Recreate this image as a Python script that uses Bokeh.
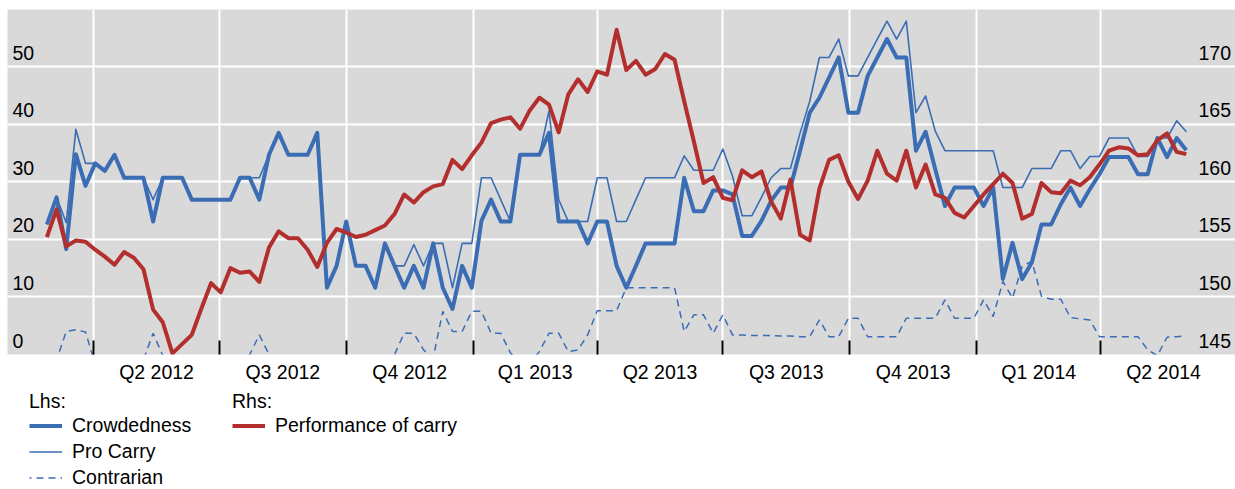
import pandas as pd
from bokeh.plotting import figure
from bokeh.layouts import column
from bokeh.models import (Range1d, FixedTicker, Grid, Label, Legend, LegendItem,
                          ColumnDataSource)
from bokeh.embed import file_html
from bokeh.resources import INLINE

# ---------------- data ----------------
start_date = "2012-02-27"
n_weeks = 119

crowdedness = [
    22.6, 27.3, 18.3, 34.8, 29.3, 33.2, 31.9, 34.7, 30.7, 30.7,
    30.7, 23.1, 30.7, 30.7, 30.7, 26.9, 26.9, 26.9, 26.9, 26.9,
    30.7, 30.7, 26.9, 34.7, 38.5, 34.7, 34.7, 34.7, 38.5, 11.6,
    15.4, 23.1, 15.4, 15.4, 11.6, 19.3, 15.4, 11.6, 15.4, 11.6,
    19.3, 11.6, 7.9, 15.4, 11.6, 23.2, 26.9, 23.1, 23.1, 34.7,
    34.7, 34.7, 38.5, 23.1, 23.1, 23.1, 19.3, 23.1, 23.1, 15.4,
    11.6, 15.4, 19.3, 19.3, 19.3, 19.3, 30.7, 24.9, 24.9, 28.5,
    28.5, 27.8, 20.6, 20.6, 23.2, 26.7, 29.0, 29.0, 35.4, 42.0,
    44.6, 48.1, 51.6, 42.0, 42.0, 48.4, 51.6, 54.8, 51.6, 51.6,
    35.4, 38.7, 32.2, 25.8, 29.0, 29.0, 29.0, 25.8, 29.0, 13.1,
    19.4, 13.1, 16.0, 22.6, 22.6, 26.1, 29.0, 25.8, 28.7, 31.3,
    34.3, 34.3, 34.3, 31.3, 31.3, 37.6, 34.3, 37.6, 35.5,
]

pro_carry = [
    22.6, 27.3, 22.9, 39.1, 33.2, 33.2, 31.9, 34.7, 30.7, 30.7,
    30.7, 26.9, 30.7, 30.7, 30.7, 26.9, 26.9, 26.9, 26.9, 26.9,
    30.7, 30.7, 30.7, 34.7, 38.5, 34.7, 34.7, 34.7, 38.5, 11.6,
    15.4, 23.1, 15.4, 15.4, 11.6, 19.3, 15.4, 15.4, 19.1, 15.4,
    19.3, 19.3, 11.6, 19.3, 19.3, 30.7, 30.7, 26.9, 23.1, 34.7,
    34.7, 34.7, 42.3, 26.9, 23.1, 23.1, 23.1, 30.7, 30.7, 23.1,
    23.1, 26.9, 30.7, 30.7, 30.7, 30.7, 34.5, 32.0, 32.0, 32.0,
    35.7, 31.0, 24.1, 24.1, 27.3, 30.7, 32.3, 32.3, 38.5, 44.0,
    51.6, 51.6, 54.8, 48.4, 48.4, 51.6, 54.8, 57.9, 54.8, 57.9,
    42.0, 44.9, 38.8, 35.4, 35.4, 35.4, 35.4, 35.4, 35.4, 29.0,
    29.0, 29.0, 32.3, 32.3, 32.3, 35.4, 35.4, 32.3, 34.4, 34.4,
    37.6, 37.6, 37.6, 34.4, 34.4, 37.6, 37.6, 40.6, 38.7,
]

contrarian = [
    -3.0, -1.0, 4.0, 4.3, 3.9, -1.7, -3.0, -3.0, -3.0, -3.0,
    -0.9, 3.7, -0.2, -3.0, -3.0, -3.0, -3.0, -3.0, -3.0, -3.0,
    -3.0, 0.0, 3.4, 0.0, -3.0, -3.0, -3.0, -3.0, -3.0, -3.0,
    -3.0, -3.0, -3.0, -3.0, -3.0, -3.0, 0.0, 3.7, 3.7, 0.8,
    -0.6, 7.5, 4.0, 4.0, 7.5, 7.5, 3.7, 3.7, 0.3, -1.5,
    -1.5, 0.5, 3.7, 3.7, 0.5, 0.8, 3.4, 7.6, 7.6, 7.6,
    11.6, 11.6, 11.6, 11.6, 11.6, 11.6, 4.0, 6.9, 6.9, 3.7,
    6.9, 3.4, 3.4, 3.3, 3.3, 3.3, 3.2, 3.2, 3.1, 3.1,
    6.0, 3.1, 3.1, 6.3, 6.3, 3.1, 3.1, 3.1, 3.1, 6.3,
    6.3, 6.3, 6.3, 9.5, 6.3, 6.3, 6.3, 9.5, 6.6, 12.7,
    9.8, 15.3, 16.2, 10.1, 9.6, 9.6, 6.4, 6.2, 6.0, 3.1,
    3.1, 3.1, 3.1, 3.1, 0.8, -0.2, 3.0, 3.1, 3.2,
]

performance = [
    155.2, 157.6, 154.4, 154.9, 154.8, 154.1, 153.5, 152.8, 153.9, 153.4,
    152.4, 148.9, 147.8, 145.1, 145.9, 146.7, 149.0, 151.2, 150.4, 152.5,
    152.1, 152.2, 151.3, 154.3, 155.7, 155.1, 155.1, 154.1, 152.6, 154.7,
    155.9, 155.6, 155.2, 155.4, 155.8, 156.2, 157.2, 158.9, 158.2, 159.1,
    159.6, 159.8, 161.9, 161.1, 162.3, 163.4, 165.1, 165.4, 165.6, 164.6,
    166.2, 167.3, 166.7, 164.3, 167.6, 168.9, 167.8, 169.6, 169.3, 173.2,
    169.7, 170.5, 169.3, 169.8, 171.1, 170.6, 167.0, 163.5, 159.9, 160.4,
    158.6, 158.4, 161.0, 160.4, 160.9, 158.3, 156.8, 160.2, 155.4, 154.9,
    159.4, 161.9, 162.3, 160.0, 158.5, 160.1, 162.7, 160.7, 160.1, 162.7,
    159.5, 161.5, 158.9, 158.6, 157.3, 156.9, 157.9, 158.9, 159.8, 160.7,
    159.9, 156.8, 157.2, 159.9, 159.1, 159.0, 160.1, 159.7, 160.4, 161.5,
    162.7, 163.0, 162.9, 162.3, 162.4, 163.6, 164.2, 162.6, 162.4,
]

quarter_bounds = ["2012-04-01", "2012-07-01", "2012-10-01", "2013-01-01",
                  "2013-04-01", "2013-07-01", "2013-10-01", "2014-01-01",
                  "2014-04-01", "2014-07-01"]
quarter_labels = ["Q2 2012", "Q3 2012", "Q4 2012", "Q1 2013", "Q2 2013",
                  "Q3 2013", "Q4 2013", "Q1 2014", "Q2 2014"]
left_ticks = [0, 10, 20, 30, 40, 50]
right_ticks = [145, 150, 155, 160, 165, 170]

# ---------------- styling ----------------
FONT = "Liberation Sans"
FS = "19.5px"
BLUE = "#3a6db4"
RED = "#b22f2e"
BG = "#d9d9d9"

W = 1235
H1 = 385
H2 = 104
LEFT = 7
TOP = 9
FRAME_H = 345

dates = pd.date_range(start_date, periods=n_weeks, freq="7D")
src = ColumnDataSource(dict(date=dates, crowd=crowdedness, pro=pro_carry,
                            contra=contrarian, perf=performance))

def ms(d):
    return int(pd.Timestamp(d).value // 10**6)

bounds_ms = [ms(d) for d in quarter_bounds]
mids_ms = [int((bounds_ms[k] + bounds_ms[k + 1]) / 2) for k in range(len(quarter_labels))]

p = figure(width=W, height=H1, x_axis_type="datetime", y_axis_location=None,
           x_range=Range1d(pd.Timestamp("2012-01-29 10:30"), pd.Timestamp("2014-07-07 15:30")),
           y_range=Range1d(0, 59.93),
           output_backend="svg", toolbar_location=None,
           min_border_left=LEFT, min_border_right=0, min_border_top=TOP,
           min_border_bottom=H1 - TOP - FRAME_H)
p.extra_y_ranges = {"right": Range1d(145, 145 + 59.93 / 2)}
p.background_fill_color = BG
p.border_fill_color = "white"
p.outline_line_color = None
p.xgrid.visible = False

# grids
p.add_layout(Grid(dimension=0, ticker=FixedTicker(ticks=bounds_ms[:-1]),
                  grid_line_color="white", grid_line_width=2))
p.add_layout(Grid(dimension=1, ticker=FixedTicker(ticks=left_ticks[1:]),
                  grid_line_color="white", grid_line_width=2))

# x axis: labels at mid-quarter, inward ticks at quarter boundaries
xa = p.xaxis[0]
xa.ticker = FixedTicker(ticks=mids_ms, minor_ticks=bounds_ms[:-1])
xa.major_label_overrides = {m: lab for m, lab in zip(mids_ms, quarter_labels)}
xa.axis_line_color = None
xa.major_tick_line_color = None
xa.major_tick_in = 0
xa.major_tick_out = 0
xa.minor_tick_in = 14
xa.minor_tick_out = 0
xa.minor_tick_line_color = "black"
xa.minor_tick_line_width = 2
xa.major_label_standoff = 6
xa.major_label_text_font = FONT
xa.major_label_text_font_size = FS
xa.major_label_text_color = "black"

# series
p.line("date", "contra", source=src, color=BLUE, line_width=1.5, line_dash="7 5")
p.line("date", "pro", source=src, color=BLUE, line_width=1.6, line_join="round")
p.line("date", "crowd", source=src, color=BLUE, line_width=4, line_join="round")
p.line("date", "perf", source=src, color=RED, line_width=4, line_join="round",
       y_range_name="right")

# y tick labels inside the plot area
for v in left_ticks:
    p.add_layout(Label(x=5, y=v, x_units="screen", text=str(v),
                       text_baseline="alphabetic", y_offset=14,
                       text_font=FONT, text_font_size=FS, text_color="black"))
for v in right_ticks:
    p.add_layout(Label(x=1191, y=v, x_units="screen", y_range_name="right",
                       text=str(v), text_align="left",
                       text_baseline="alphabetic", y_offset=14,
                       text_font=FONT, text_font_size=FS, text_color="black"))

# ---------------- legend panel ----------------
q = figure(width=W, height=H2, x_range=Range1d(0, 1), y_range=Range1d(0, 1),
           x_axis_location=None, y_axis_location=None,
           output_backend="svg", toolbar_location=None,
           min_border_left=0, min_border_right=0, min_border_top=0, min_border_bottom=0)
q.outline_line_color = None
q.background_fill_color = "white"
q.border_fill_color = "white"
q.grid.visible = False

# legend proxies (kept outside the visible range of this panel)
px, py = [5, 6], [5, 6]
g_crowd = q.line(x=px, y=py, color=BLUE, line_width=4)
g_pro = q.line(x=px, y=py, color=BLUE, line_width=1.6)
g_contra = q.line(x=px, y=py, color=BLUE, line_width=1.5, line_dash="7 5",
                  line_dash_offset=5)
g_perf = q.line(x=px, y=py, color=RED, line_width=4)

def make_legend(title, items, loc):
    lg = Legend(title=title, items=items, location=loc)
    lg.title_text_font = FONT
    lg.title_text_font_size = FS
    lg.title_text_font_style = "normal"
    lg.title_text_color = "black"
    lg.title_standoff = 1
    lg.label_text_font = FONT
    lg.label_text_font_size = FS
    lg.label_text_color = "black"
    lg.glyph_width = 33
    lg.glyph_height = 23
    lg.label_height = 23
    lg.label_standoff = 10
    lg.spacing = 3
    lg.padding = 0
    lg.margin = 0
    lg.border_line_color = None
    lg.background_fill_alpha = 0
    return lg

lhs = make_legend("Lhs:", [LegendItem(label="Crowdedness", renderers=[g_crowd]),
                           LegendItem(label="Pro Carry", renderers=[g_pro]),
                           LegendItem(label="Contrarian", renderers=[g_contra])],
                  (22, 0))
rhs = make_legend("Rhs:", [LegendItem(label="Performance of carry", renderers=[g_perf])],
                  (225, 52))
q.add_layout(lhs)
q.add_layout(rhs)

open("out.html", "w").write(file_html(column(p, q, spacing=0), INLINE))
